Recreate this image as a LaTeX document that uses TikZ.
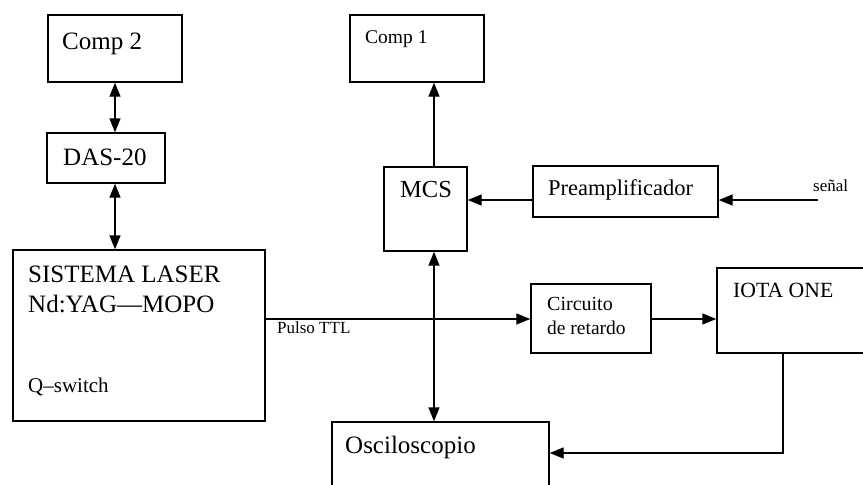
\documentclass[tikz,border=0pt]{standalone}
\usepackage{fontspec}
\setmainfont{Liberation Serif}
\usetikzlibrary{arrows.meta}
\newcommand\fsz[1]{\fontsize{#1}{#1}\selectfont}
\begin{document}
\begin{tikzpicture}[x=1pt,y=-1pt,
  box/.style={draw,line width=1.4pt,inner sep=0pt,minimum width=#1},
  lbl/.style={anchor=base west,inner sep=0pt},
  tip/.tip={Triangle[length=14pt,width=11pt]},
  arr/.style={line width=1.4pt,-tip},
  biarr/.style={line width=1.4pt,tip-tip},
  wire/.style={line width=1.4pt}]
\useasboundingbox (0,0) rectangle (863,485);
\clip (0,0) rectangle (863,485);
% boxes
\node[box=134pt,minimum height=67pt] (comp2) at (115,48.5) {};
\node[box=118pt,minimum height=50pt] (das) at (106,158) {};
\node[box=252pt,minimum height=171pt] (laser) at (139,335.5) {};
\node[box=134pt,minimum height=67pt] (comp1) at (417,48.5) {};
\node[box=83pt,minimum height=84pt] (mcs) at (425.5,209) {};
\node[box=185pt,minimum height=51pt] (preamp) at (625.5,191.5) {};
\node[box=120pt,minimum height=69pt] (circ) at (591,318.5) {};
\node[box=163pt,minimum height=85pt] (iota) at (798.5,310.5) {};
\node[box=217pt,minimum height=78pt] (osc) at (440.5,461) {};
% texts
\node[lbl] (t1) at (62,49) {\fsz{25}Comp 2};
\node[lbl] (t2) at (63,165) {\fsz{25}DAS-20};
\node[lbl] (t3) at (28,282) {\fsz{25}SISTEMA LASER};
\node[lbl] (t4) at (28,312) {\fsz{25}Nd:YAG—MOPO};
\node[lbl] (t5) at (28,392) {\fsz{21}Q–switch};
\node[lbl] (t6) at (277,333) {\fsz{17}Pulso TTL};
\node[lbl] (t7) at (365,43) {\fsz{19.5}Comp 1};
\node[lbl] (t8) at (400,197) {\fsz{24.5}MCS};
\node[lbl] (t9) at (548,195) {\fsz{22.5}Preamplificador};
\node[lbl] (t10) at (813,191) {\fsz{17}señal};
\node[lbl] (t11) at (547,310) {\fsz{20}Circuito};
\node[lbl] (t12) at (547,334) {\fsz{19.5}de retardo};
\node[lbl] (t13) at (733,297) {\fsz{21.7}IOTA ONE};
\node[lbl] (t14) at (345,453) {\fsz{25}Osciloscopio};
% helper coordinates
\coordinate (vx) at (434,0);
\coordinate (hy) at (0,200);
\coordinate (py) at (0,319);
\coordinate (sig) at (818,200);
\coordinate (dn) at (783,0);
\coordinate (oy) at (0,453);
% connectors
\draw[biarr] (comp2.south) -- (comp2.south |- das.north);
\draw[biarr] (comp2.south |- das.south) -- (comp2.south |- laser.north);
\draw[arr] (mcs.north -| vx) -- (comp1.south -| vx);
\draw[arr] (preamp.west |- hy) -- (mcs.east |- hy);
\draw[arr] (sig) -- (preamp.east |- sig);
\draw[biarr] (mcs.south -| vx) -- (osc.north -| vx);
\draw[arr] (laser.east |- py) -- (circ.west |- py);
\draw[arr] (circ.east |- py) -- (iota.west |- py);
\draw[arr] (iota.south -| dn) -- (dn |- oy) -- (osc.east |- oy);
\end{tikzpicture}
\end{document}
